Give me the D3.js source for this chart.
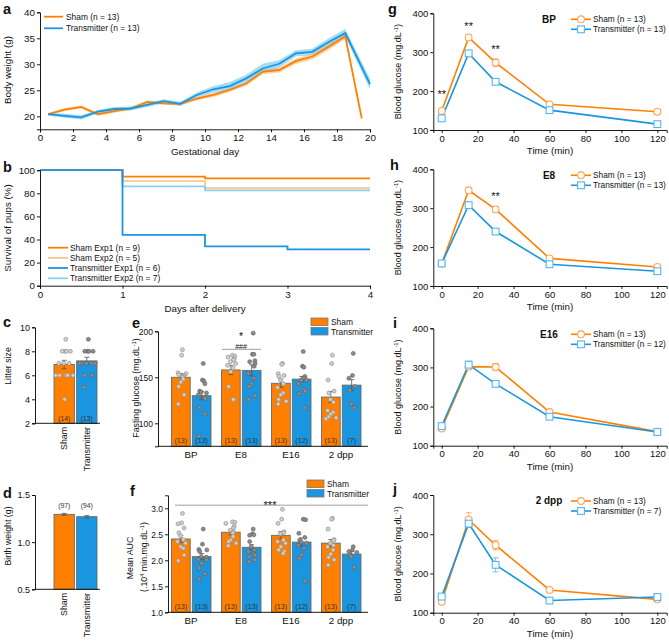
<!DOCTYPE html>
<html><head><meta charset="utf-8">
<script src="https://cdn.jsdelivr.net/npm/d3@7"></script>
<style>
body{margin:0;background:#fff;}
svg{font-family:Arial,"Liberation Sans",Helvetica,sans-serif;display:block;}
</style></head><body>
<svg id="fig" width="669" height="644"></svg>
<script>
// ===================== DATA =====================
// Panel a: body weight
const gestDaysSham = [0.5,1.5,2.5,3.5,4.5,5.5,6.5,7.5,8.5,9.5,10.5,11.5,12.5,13.5,14.5,15.5,16.5,17.5,18.5,19.5];
const gestDaysTx   = [0.5,1.5,2.5,3.5,4.5,5.5,6.5,7.5,8.5,9.5,10.5,11.5,12.5,13.5,14.5,15.5,16.5,17.5,18.5,20];
const bwSham    = [20.4,21.3,21.8,20.4,21.0,21.5,22.75,22.5,22.4,23.4,24.1,25.1,26.3,28.6,28.9,30.6,31.5,33.4,35.4,19.6];
const bwShamSem = [0.2,0.3,0.3,0.3,0.3,0.3,0.3,0.3,0.3,0.3,0.4,0.4,0.4,0.5,0.5,0.5,0.6,0.6,0.6,0.5];
const bwTx      = [20.4,20.1,19.8,20.9,21.4,21.5,22.2,22.9,22.4,24.1,25.2,25.8,27.3,29.2,30.1,32.1,32.4,34.3,36.0,26.2];
const bwTxSem   = [0.3,0.4,0.4,0.3,0.4,0.4,0.4,0.4,0.4,0.5,0.6,0.8,0.7,0.9,0.7,0.6,0.6,0.7,0.8,1.0];

// Panel b: survival
const survDays = [0,1,2,3,4];
const survShamExp1 = [100,94.5,93,93,93];
const survShamExp2 = [100,90.5,84.5,84.5,84.5];
const survTxExp1   = [100,44,34,31.5,31.5];
const survTxExp2   = [100,86,82.5,82.5,82.5];
const survLegend = ["Sham Exp1 (n = 9)","Sham Exp2 (n = 5)","Transmitter Exp1 (n = 6)","Transmitter Exp2 (n = 7)"];

// Panel c: litter size
const barCats = ["Sham","Transmitter"];
const litterMean = [6.9,7.2];
const litterSem  = [0.35,0.3];
const litterN    = [14,13];
const litterShamPts = [9,8,8,8,8,7,7,7,6,6,6,6,6,4];
const litterTxPts   = [9,8,8,8,8,7,7,7,7,7,6,6,5];

// Panel d: birth weight
const birthMean = [1.295,1.27];
const birthSem  = [0.01,0.012];
const birthN    = [97,94];

// Panels e/f
const groups = ["BP","E8","E16","2 dpp"];
const nSham = [13,13,13,13];
const nTx   = [13,13,12,7];
const fastSham    = [150,158,143.5,128.5];
const fastShamSem = [4,5,4.5,6];
const fastTx      = [130,157.5,148,141.5];
const fastTxSem   = [4.5,6,3,6];
const fastShamPts = [
  [180,174,155,154,153,152,151,150,148,145,140,131,121],
  [174,173,172,170,169,167,165,163,160,156,140,126,126],
  [165,164,154,152,151,147,143,139,133,131,126,124,121],
  [174,165,147,135,133,126,123,114,112,110,107,106,105]];
const fastTxPts = [
  [165,147,146,143,135,134,133,131,128,127,117,110,86],
  [198,175,175,168,167,165,162,154,149,143,140,130,126],
  [178,162,161,151,149,147,147,143,137,135,132,117],
  [176,152,149,140,136,121,117]];
const aucSham    = [2.41,2.54,2.48,2.33];
const aucShamSem = [0.07,0.05,0.07,0.07];
const aucTx      = [2.07,2.25,2.35,2.12];
const aucTxSem   = [0.06,0.05,0.08,0.05];
const aucShamPts = [
  [2.90,2.72,2.70,2.62,2.53,2.47,2.40,2.36,2.33,2.26,2.23,2.10,1.99],
  [2.74,2.73,2.71,2.65,2.62,2.58,2.55,2.52,2.46,2.39,2.36,2.33,2.28],
  [2.98,2.79,2.71,2.55,2.53,2.51,2.39,2.36,2.33,2.26,2.20,2.17,2.13],
  [2.81,2.79,2.60,2.40,2.38,2.33,2.29,2.26,2.20,2.12,2.06,2.01,1.91]];
const aucTxPts = [
  [2.60,2.31,2.21,2.20,2.17,2.07,2.06,2.02,2.01,1.94,1.85,1.74,1.64],
  [2.60,2.51,2.49,2.48,2.36,2.26,2.20,2.17,2.12,2.10,2.07,2.01,1.97],
  [2.79,2.78,2.52,2.44,2.39,2.35,2.33,2.29,2.23,2.10,2.04,1.60],
  [2.26,2.20,2.17,2.15,2.10,2.07,1.87]];

// Panels g-j: glucose tolerance
const gttTimes = [0,15,30,60,120];
const gttBPSham  = [149,338,273,166,147], gttBPShamSem  = [5,6,10,5,6];
const gttBPTx    = [130,297,224,151,115], gttBPTxSem    = [4,7,5,4,4];
const gttE8Sham  = [157,346,297,171,149], gttE8ShamSem  = [4,6,7,4,4];
const gttE8Tx    = [158,308,240,156,138], gttE8TxSem    = [5,9,5,4,4];
const gttE16Sham = [144,302,301,186,136], gttE16ShamSem = [4,7,9,5,4];
const gttE16Tx   = [150,307,258,174,135], gttE16TxSem   = [4,9,8,5,3];
const gttPPSham  = [128,337,272,158,134], gttPPShamSem  = [4,18,12,5,4];
const gttPPTx    = [141,327,222,131,140], gttPPTxSem    = [4,10,18,4,6];
const gttNTx = [13,13,12,7];
const gttStarsBP = [[0,198],[15,374],[30,314]];
const gttStarsE8 = [[30,338]];

// ===================== DRAWING =====================
const svg = d3.select("#fig");
const FONT = 'Arial, "Liberation Sans", Helvetica, sans-serif';
const ORANGE = "#FF8000", BLUE = "#1A96E0", LORANGE = "#FFC58C", LBLUE = "#86D0F3";
const MORANGE = "#FFA452", MBLUE = "#55B6EE";

function axisStyle(g, fs){
  g.select(".domain").attr("stroke","#000").attr("stroke-width",0.9);
  g.selectAll(".tick line").attr("stroke","#000").attr("stroke-width",0.9);
  g.selectAll(".tick text").attr("font-size",fs).attr("font-family",FONT).attr("fill","#111");
}
function leftAxis(scale,x,ticks,fs,fmt){
  const a = d3.axisLeft(scale).tickValues(ticks).tickSizeOuter(0).tickSize(3).tickPadding(2);
  if(fmt) a.tickFormat(fmt);
  const g = svg.append("g").attr("transform",`translate(${x},0)`).call(a);
  axisStyle(g,fs); return g;
}
function bottomAxis(scale,y,ticks,fs,fmt){
  const a = d3.axisBottom(scale).tickValues(ticks).tickSizeOuter(0).tickSize(3).tickPadding(2);
  if(fmt) a.tickFormat(fmt);
  const g = svg.append("g").attr("transform",`translate(0,${y})`).call(a);
  axisStyle(g,fs); return g;
}
function hline(x1,x2,y,col,w){ svg.append("line").attr("x1",x1).attr("x2",x2).attr("y1",y).attr("y2",y).attr("stroke",col||"#000").attr("stroke-width",w||0.9); }
function text(x,y,s,fs,opts){
  const t = svg.append("text").attr("x",x).attr("y",y).attr("font-size",fs).attr("fill","#111").text(s);
  if(opts&&opts.anchor) t.attr("text-anchor",opts.anchor);
  if(opts&&opts.bold) t.attr("font-weight","bold");
  return t;
}
function vtext(x,y,fs){
  return svg.append("text").attr("transform",`translate(${x},${y}) rotate(-90)`).attr("text-anchor","middle").attr("font-size",fs).attr("fill","#111");
}
function supText(t, parts, fs){
  parts.forEach((p,i)=>{
    if(i%2===0) t.append("tspan").attr("dy", i===0?0:3).attr("font-size",fs).text(p);
    else t.append("tspan").attr("dy",-3).attr("font-size",fs*0.65).text(p);
  });
}
function panelLabel(s,x,y){ text(x,y,s,14.5,{bold:true}); }
const jit = i => Math.sin(i*2.39+0.5)*5.5;
const intFmt = d3.format("d");

// ---------- Panel a ----------
{
  const x = d3.scaleLinear([0,20],[40,370]);
  const y = d3.scaleLinear([17.5,40],[129.3,12.3]);
  const band = (days,m,s)=>d3.area().x((d,i)=>x(days[i])).y0((d,i)=>y(m[i]-s[i])).y1((d,i)=>y(m[i]+s[i]))(m);
  const line = (days,m)=>d3.line().x((d,i)=>x(days[i])).y(d=>y(d))(m);
  svg.append("path").attr("d",band(gestDaysSham,bwSham,bwShamSem)).attr("fill",LORANGE).attr("opacity",0.8);
  svg.append("path").attr("d",band(gestDaysTx,bwTx,bwTxSem)).attr("fill",LBLUE).attr("opacity",0.75);
  svg.append("path").attr("d",line(gestDaysSham,bwSham)).attr("fill","none").attr("stroke",ORANGE).attr("stroke-width",1.8);
  svg.append("path").attr("d",line(gestDaysTx,bwTx)).attr("fill","none").attr("stroke",BLUE).attr("stroke-width",1.8);
  bottomAxis(x,129.3,d3.range(0,21,2),9.8,intFmt);
  leftAxis(y,40,[20,25,30,35,40],9.8,intFmt);
  text(205,155,"Gestational day",9.8,{anchor:"middle"});
  vtext(11,70,9.8).text("Body weight (g)");
  hline(44,63,16.7,ORANGE,1.8); text(66,19.8,"Sham (n = 13)",8.4);
  hline(44,63,28.3,BLUE,1.8); text(66,31.4,"Transmitter (n = 13)",8.4);
  panelLabel("a",3,14);
}

// ---------- Panel b ----------
{
  const x = d3.scaleLinear([0,4],[40,370]);
  const y = d3.scaleLinear([0,100],[285.7,170.2]);
  const step = d3.line().x((d,i)=>x(survDays[i])).y(d=>y(d)).curve(d3.curveStepAfter);
  const series = [[survShamExp2,LORANGE],[survTxExp2,LBLUE],[survShamExp1,ORANGE],[survTxExp1,BLUE]];
  series.forEach(([s,c])=>svg.append("path").attr("d",step(s)).attr("fill","none").attr("stroke",c).attr("stroke-width",1.8));
  bottomAxis(x,285.7,[0,1,2,3,4],9.8,intFmt);
  leftAxis(y,40,[0,20,40,60,80,100],9.8,intFmt);
  text(205,312,"Days after delivery",9.8,{anchor:"middle"});
  vtext(11,228,9.8).text("Survival of pups (%)");
  const legCols = [ORANGE,LORANGE,BLUE,LBLUE];
  const legY = [247.7,257.9,268,278.3];
  survLegend.forEach((s,i)=>{ hline(48,68,legY[i],legCols[i],1.8); text(70,legY[i]+3,s,8.4); });
  panelLabel("b",3,172);
}

// ---------- bar helpers ----------
function errBar(cx,ylo,yhi,w){
  svg.append("line").attr("x1",cx).attr("x2",cx).attr("y1",ylo).attr("y2",yhi).attr("stroke","#555").attr("stroke-width",0.8);
  svg.append("line").attr("x1",cx-w).attr("x2",cx+w).attr("y1",yhi).attr("y2",yhi).attr("stroke","#555").attr("stroke-width",0.8);
  svg.append("line").attr("x1",cx-w).attr("x2",cx+w).attr("y1",ylo).attr("y2",ylo).attr("stroke","#555").attr("stroke-width",0.8);
}
function bar(x0,w,ytop,ybot,col){
  svg.append("rect").attr("x",x0).attr("y",ytop).attr("width",w).attr("height",ybot-ytop).attr("fill",col).attr("stroke","#6a6a6a").attr("stroke-width",0.9);
}
function dots(cx,pts,y,dark){
  const seen = {};
  pts.forEach((v,i)=>{
    const k = Math.round(y(v)/2.5);
    seen[k] = (seen[k]||0)+1;
    const n = seen[k]-1;
    const off = n===0 ? jit(i)*0.6 : ((n%2?1:-1)*Math.ceil(n/2)*3.6 + jit(i)*0.3);
    svg.append("circle").attr("cx",cx+off).attr("cy",y(v)).attr("r",2)
      .attr("fill",dark?"#8c8c8c":"#cfcfcf").attr("stroke",dark?"#5e5e5e":"#8a8a8a").attr("stroke-width",0.6);
  });
}

// ---------- Panel c ----------
{
  const x = d3.scaleBand(barCats,[54,97]).paddingInner(0.1);
  const y = d3.scaleLinear([2,10],[423.3,327.3]);
  barCats.forEach((c,i)=>{
    bar(x(c),x.bandwidth(),y(litterMean[i]),y(2),i?BLUE:ORANGE);
    errBar(x(c)+x.bandwidth()/2,y(litterMean[i]-litterSem[i]),y(litterMean[i]+litterSem[i]),2.5);
  });
  dots(x("Sham")+x.bandwidth()/2,litterShamPts,y,false);
  dots(x("Transmitter")+x.bandwidth()/2,litterTxPts,y,true);
  barCats.forEach((c,i)=>text(x(c)+x.bandwidth()/2,421,`(${litterN[i]})`,6.8,{anchor:"middle"}).attr("fill","#333"));
  leftAxis(y,35,[2,4,6,8,10],9);
  hline(35,100,423.3);
  barCats.forEach(c=>svg.append("text").attr("transform",`translate(${x(c)+x.bandwidth()/2+3.2},427) rotate(-90)`).attr("text-anchor","end").attr("font-size",8.8).attr("fill","#111").text(c));
  vtext(11,366,8.8).text("Litter size");
  panelLabel("c",3,327);
}

// ---------- Panel d ----------
{
  const x = d3.scaleBand(barCats,[54,97]).paddingInner(0.1);
  const y = d3.scaleLinear([0.5,1.5],[589.3,495]);
  barCats.forEach((c,i)=>{
    bar(x(c),x.bandwidth(),y(birthMean[i]),y(0.5),i?BLUE:ORANGE);
    errBar(x(c)+x.bandwidth()/2,y(birthMean[i]-birthSem[i]),y(birthMean[i]+birthSem[i]),2.5);
    text(x(c)+x.bandwidth()/2,508,`(${birthN[i]})`,6.8,{anchor:"middle"}).attr("fill","#333");
  });
  leftAxis(y,35,[0.5,1.0,1.5],9,d3.format(".1f"));
  hline(35,100,589.3);
  barCats.forEach(c=>svg.append("text").attr("transform",`translate(${x(c)+x.bandwidth()/2+3.2},593) rotate(-90)`).attr("text-anchor","end").attr("font-size",8.8).attr("fill","#111").text(c));
  vtext(11,536,8.8).text("Birth weight (g)");
  panelLabel("d",3,498);
}

// ---------- Panels e, f ----------
function groupedBars(o){
  const gx = d3.scaleBand(groups,[166,366]);
  const sx = d3.scaleBand(barCats,[5.5,45]).paddingInner(0.1);
  const y = o.y, base = o.y.domain()[0];
  groups.forEach((g,i)=>{
    const xs = gx(g)+sx("Sham"), xt = gx(g)+sx("Transmitter"), w = sx.bandwidth();
    bar(xs,w,y(o.sham[i]),y(base),ORANGE);
    bar(xt,w,y(o.tx[i]),y(base),BLUE);
    errBar(xs+w/2,y(o.sham[i]-o.shamSem[i]),y(o.sham[i]+o.shamSem[i]),2.5);
    errBar(xt+w/2,y(o.tx[i]-o.txSem[i]),y(o.tx[i]+o.txSem[i]),2.5);
    dots(xs+w/2,o.shamPts[i],y,false);
    dots(xt+w/2,o.txPts[i],y,true);
    text(xs+w/2,o.nY,`(${nSham[i]})`,7.2,{anchor:"middle"}).attr("fill","#333");
    text(xt+w/2,o.nY,`(${nTx[i]})`,7.2,{anchor:"middle"}).attr("fill","#333");
    text(gx(g)+gx.bandwidth()/2,o.labY,g,9.8,{anchor:"middle"});
  });
  leftAxis(y,o.axX,o.ticks,8.5,o.fmt);
  hline(o.axX,368,y(base));
  const L = o.leg;
  svg.append("rect").attr("x",L[0]).attr("y",L[1]).attr("width",17).attr("height",7.5).attr("fill",ORANGE).attr("stroke","#777").attr("stroke-width",0.8);
  svg.append("rect").attr("x",L[0]).attr("y",L[1]+9.5).attr("width",17).attr("height",7.5).attr("fill",BLUE).attr("stroke","#777").attr("stroke-width",0.8);
  text(L[0]+20,L[1]+7,"Sham",8.4);
  text(L[0]+20,L[1]+16.5,"Transmitter",8.4);
  return gx;
}
{
  const y = d3.scaleLinear([75,200],[446.3,331.3]);
  const gx = groupedBars({y,sham:fastSham,shamSem:fastShamSem,tx:fastTx,txSem:fastTxSem,shamPts:fastShamPts,txPts:fastTxPts,
    nY:443,labY:458,axX:158,ticks:[100,150,200],leg:[311,318]});
  const cE8 = gx("E8")+gx.bandwidth()/2;
  text(cE8,340,"*",10.5,{anchor:"middle"});
  text(cE8,348.6,"###",7,{anchor:"middle"});
  hline(cE8-19,cE8+20,y(180.4),"#888",0.8);
  const t = vtext(139,388,8.8); supText(t,["Fasting glucose (mg.dL","-1",")"],8.8);
  panelLabel("e",132,328);
}
{
  const y = d3.scaleLinear([1,3.25],[612.3,495.3]);
  groupedBars({y,sham:aucSham,shamSem:aucShamSem,tx:aucTx,txSem:aucTxSem,shamPts:aucShamPts,txPts:aucTxPts,
    nY:609,labY:624,axX:168,ticks:[1.0,1.5,2.0,2.5,3.0],fmt:d3.format(".1f"),leg:[307,480]});
  hline(175,368,y(3.06),"#888",0.8);
  text(270,508.5,"***",11,{anchor:"middle"});
  vtext(133,558,8.8).text("Mean AUC");
  const t = vtext(147,557,8.8); supText(t,["(.10","4"," min.mg.dL","-1",")"],8.8);
  panelLabel("f",130,496);
}

// ---------- Panels g-j ----------
const gttPanels = [
  {lab:"g",grp:"BP", top:13.3, bot:130, sham:gttBPSham,shamSem:gttBPShamSem,tx:gttBPTx,txSem:gttBPTxSem,nTx:gttNTx[0],stars:gttStarsBP, lx:388, ly:13.5},
  {lab:"h",grp:"E8", top:169.3,bot:286, sham:gttE8Sham,shamSem:gttE8ShamSem,tx:gttE8Tx,txSem:gttE8TxSem,nTx:gttNTx[1],stars:gttStarsE8, lx:390, ly:170},
  {lab:"i",grp:"E16",top:328.3,bot:445.7,sham:gttE16Sham,shamSem:gttE16ShamSem,tx:gttE16Tx,txSem:gttE16TxSem,nTx:gttNTx[2],stars:[], lx:393, ly:328},
  {lab:"j",grp:"2 dpp",top:495,bot:612.7,sham:gttPPSham,shamSem:gttPPShamSem,tx:gttPPTx,txSem:gttPPTxSem,nTx:gttNTx[3],stars:[], lx:393, ly:494}
];
gttPanels.forEach(p=>{
  const x = d3.scaleLinear([-4.67,125.2],[433.3,666.7]);
  const y = d3.scaleLinear([100,400],[p.bot,p.top]);
  const line = d3.line().x((d,i)=>x(gttTimes[i])).y(d=>y(d));
  const eb = (m,s,col)=>m.forEach((v,i)=>{
    const cx = x(gttTimes[i]);
    svg.append("line").attr("x1",cx).attr("x2",cx).attr("y1",y(v-s[i])).attr("y2",y(v+s[i])).attr("stroke",col).attr("stroke-width",0.8);
    [v-s[i],v+s[i]].forEach(e=>svg.append("line").attr("x1",cx-3).attr("x2",cx+3).attr("y1",y(e)).attr("y2",y(e)).attr("stroke",col).attr("stroke-width",0.8));
  });
  eb(p.sham,p.shamSem,MORANGE);
  eb(p.tx,p.txSem,MBLUE);
  svg.append("path").attr("d",line(p.sham)).attr("fill","none").attr("stroke",ORANGE).attr("stroke-width",1.6);
  svg.append("path").attr("d",line(p.tx)).attr("fill","none").attr("stroke",BLUE).attr("stroke-width",1.6);
  p.sham.forEach((v,i)=>svg.append("circle").attr("cx",x(gttTimes[i])).attr("cy",y(v)).attr("r",3.4).attr("fill","#fff").attr("stroke",MORANGE).attr("stroke-width",1.1));
  p.tx.forEach((v,i)=>svg.append("rect").attr("x",x(gttTimes[i])-3.4).attr("y",y(v)-3.4).attr("width",6.8).attr("height",6.8).attr("fill","#fff").attr("stroke",MBLUE).attr("stroke-width",1.1));
  bottomAxis(x,p.bot,[0,20,40,60,80,100,120],9.5);
  leftAxis(y,433.3,[100,200,300,400],9.5);
  text(550,p.bot+24,"Time (min)",9.8,{anchor:"middle"});
  const t = vtext(401,(p.top+p.bot)/2,9); supText(t,["Blood glucose (mg.dL","-1",")"],9);
  text(549,p.top+9.3,p.grp,10,{anchor:"middle",bold:true});
  const ly1 = p.top+6, ly2 = p.top+16;
  hline(571,591,ly1,ORANGE,1.6);
  svg.append("circle").attr("cx",581).attr("cy",ly1).attr("r",3.4).attr("fill","#fff").attr("stroke",MORANGE).attr("stroke-width",1.1);
  text(593,ly1+3,"Sham (n = 13)",8.3);
  hline(571,591,ly2,BLUE,1.6);
  svg.append("rect").attr("x",581-3.4).attr("y",ly2-3.4).attr("width",6.8).attr("height",6.8).attr("fill","#fff").attr("stroke",MBLUE).attr("stroke-width",1.1);
  text(593,ly2+3,`Transmitter (n = ${p.nTx})`,8.3);
  p.stars.forEach(([tm,v])=>text(x(tm),y(v)+6.5,"**",11,{anchor:"middle"}));
  panelLabel(p.lab,p.lx,p.ly);
});
</script>
</body></html>
